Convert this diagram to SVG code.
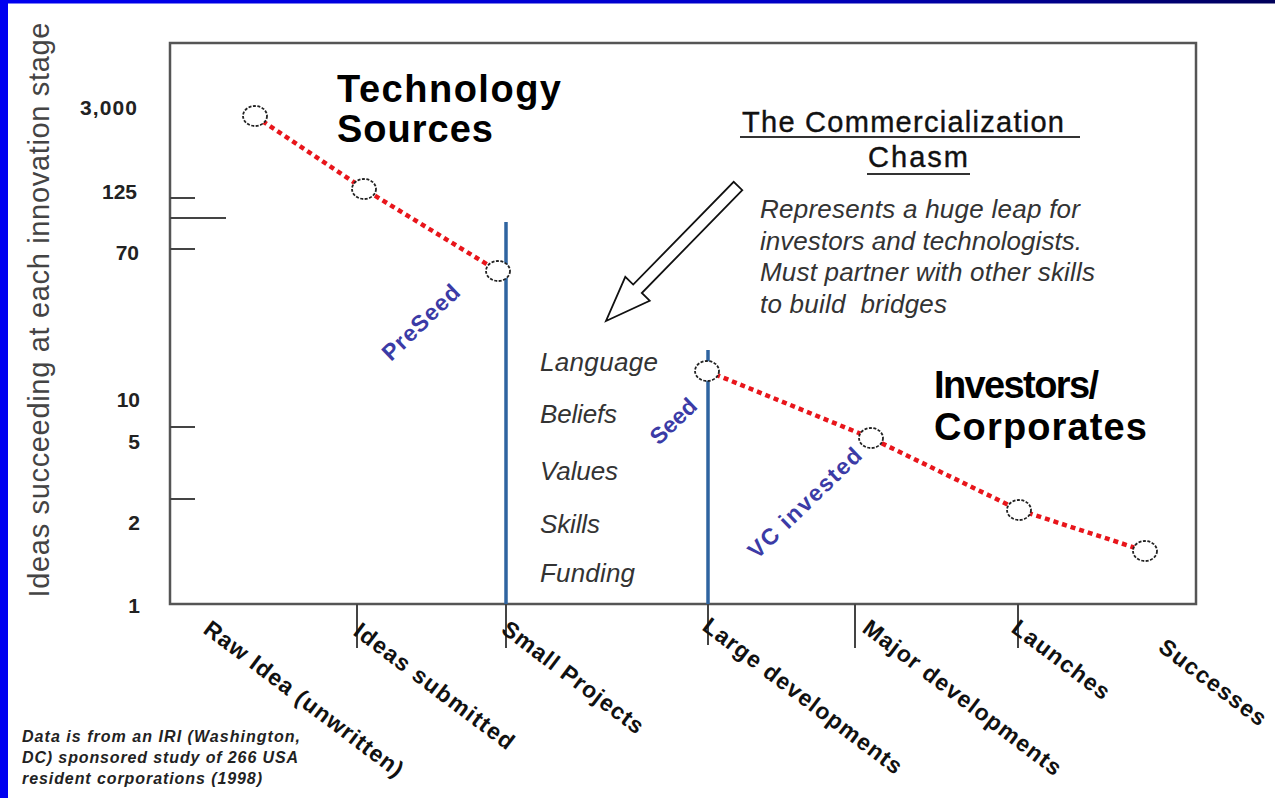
<svg xmlns="http://www.w3.org/2000/svg" width="1275" height="798" viewBox="0 0 1275 798">
<defs>
<linearGradient id="topbar" x1="0" y1="0" x2="1" y2="0">
<stop offset="0" stop-color="#0000f0"/>
<stop offset="0.6" stop-color="#0000c8"/>
<stop offset="1" stop-color="#00005a"/>
</linearGradient>
<style>
.frame{fill:none;stroke:#555;stroke-width:2.5}
.tick{stroke:#444;stroke-width:2}
.ylab{font-family:"Liberation Sans",Arial,sans-serif;font-size:21px;font-weight:bold;fill:#222;text-anchor:end}
.xlab{font-family:"Liberation Sans",Arial,sans-serif;font-size:23px;font-weight:bold;fill:#111}
.axis{font-family:"Liberation Sans",Arial,sans-serif;font-size:29px;fill:#444}
.big{font-family:"Liberation Sans",Arial,sans-serif;font-size:38px;font-weight:bold;fill:#000}
.head{font-family:"Liberation Sans",Arial,sans-serif;font-size:29px;fill:#111;stroke:#111;stroke-width:0.4}
.para{font-family:"Liberation Sans",Arial,sans-serif;font-size:26px;font-style:italic;fill:#333}
.list{font-family:"Liberation Sans",Arial,sans-serif;font-size:26px;font-style:italic;fill:#333}
.stage{font-family:"Liberation Sans",Arial,sans-serif;font-size:23px;font-weight:bold;fill:#3b3ba6}
.note{font-family:"Liberation Sans",Arial,sans-serif;font-size:16px;font-weight:bold;font-style:italic;fill:#222}
.trend{fill:none;stroke:#e8151b;stroke-width:4.5;stroke-dasharray:5 4}
.pt{fill:#fff;stroke:#222;stroke-width:1.8;stroke-dasharray:3 1.5}
.gap{stroke:#2f64a0;stroke-width:3.5}
.ul{stroke:#333;stroke-width:2}
</style>
</defs>
<rect x="0" y="0" width="1275" height="798" fill="#fff"/>
<rect x="0" y="0" width="1275" height="3.5" fill="url(#topbar)"/>
<rect x="0" y="0" width="8" height="798" fill="#0000f0"/>

<g id="axes">
<rect class="frame" x="170" y="43" width="1026" height="561"/>
<line class="tick" x1="170" y1="198" x2="195" y2="198"/>
<line class="tick" x1="170" y1="218" x2="226" y2="218"/>
<line class="tick" x1="170" y1="249" x2="195" y2="249"/>
<line class="tick" x1="170" y1="427" x2="195" y2="427"/>
<line class="tick" x1="170" y1="499" x2="195" y2="499"/>
<line class="tick" x1="357" y1="604" x2="357" y2="648"/>
<line class="tick" x1="506" y1="604" x2="506" y2="648"/>
<line class="tick" x1="708" y1="604" x2="708" y2="645"/>
<line class="tick" x1="855" y1="604" x2="855" y2="648"/>
<line class="tick" x1="1018" y1="604" x2="1018" y2="648"/>
<text class="axis" x="49" y="310" transform="rotate(-90 49 310)" text-anchor="middle" textLength="575">Ideas succeeding at each innovation stage</text>
<text class="ylab" x="137" y="115" textLength="57">3,000</text>
<text class="ylab" x="137" y="199">125</text>
<text class="ylab" x="139" y="260">70</text>
<text class="ylab" x="140" y="407">10</text>
<text class="ylab" x="140" y="449">5</text>
<text class="ylab" x="140" y="530">2</text>
<text class="ylab" x="140" y="613">1</text>
</g>

<g id="x-labels">
<text class="xlab" x="202" y="632" transform="rotate(37 202 632)" textLength="243">Raw Idea (unwritten)</text>
<text class="xlab" x="352" y="634" transform="rotate(37 352 634)" textLength="194">Ideas submitted</text>
<text class="xlab" x="500" y="632" transform="rotate(37 500 632)" textLength="171">Small Projects</text>
<text class="xlab" x="701" y="629" transform="rotate(37 701 629)" textLength="243">Large developments</text>
<text class="xlab" x="861" y="631" transform="rotate(37 861 631)" textLength="242">Major developments</text>
<text class="xlab" x="1010" y="631" transform="rotate(37 1010 631)" textLength="116">Launches</text>
<text class="xlab" x="1157" y="650" transform="rotate(37 1157 650)" textLength="128">Successes</text>
</g>

<g id="connectors">
<line class="gap" x1="506" y1="222" x2="506" y2="604"/>
<line class="gap" x1="708" y1="350" x2="708" y2="604"/>
<polyline class="trend" points="255,116 364,189 498,271"/>
<polyline class="trend" points="707,371 871,438 1019,510 1145,551"/>
</g>

<g id="point-raw"><ellipse class="pt" cx="255" cy="116" rx="12" ry="10"/></g>
<g id="point-submitted"><ellipse class="pt" cx="364" cy="189" rx="12" ry="10"/></g>
<g id="point-small"><ellipse class="pt" cx="498" cy="271" rx="12" ry="10"/></g>
<g id="point-large"><ellipse class="pt" cx="707" cy="371" rx="12" ry="10"/></g>
<g id="point-major"><ellipse class="pt" cx="871" cy="438" rx="12" ry="10"/></g>
<g id="point-launches"><ellipse class="pt" cx="1019" cy="510" rx="12" ry="10"/></g>
<g id="point-successes"><ellipse class="pt" cx="1145" cy="551" rx="12" ry="10"/></g>

<g id="technology-sources">
<text class="big" x="337" y="102" textLength="224">Technology</text>
<text class="big" x="337" y="142" textLength="156">Sources</text>
</g>

<g id="investors-corporates">
<text class="big" x="934" y="398" textLength="165">Investors/</text>
<text class="big" x="934" y="440" textLength="213">Corporates</text>
</g>

<g id="chasm">
<text class="head" x="742" y="132" textLength="322">The Commercialization</text>
<line class="ul" x1="740" y1="137" x2="1080" y2="137"/>
<text class="head" x="868" y="167" textLength="100">Chasm</text>
<line class="ul" x1="867" y1="174" x2="970" y2="174"/>
<text class="para" x="760" y="218" textLength="320">Represents a huge leap for</text>
<text class="para" x="760" y="250" textLength="322">investors and technologists.</text>
<text class="para" x="760" y="281" textLength="335">Must partner with other skills</text>
<text class="para" x="760" y="313" textLength="187">to build&#160; bridges</text>
<path d="M742.3,190.2 L641.8,293 L649.7,300.7 L606,321 L625.3,276.9 L633.2,284.6 L733.7,181.8 Z" fill="#fff" stroke="#111" stroke-width="1.8" stroke-linejoin="miter"/>
</g>

<g id="gap-factors">
<text class="list" x="540" y="371" textLength="118">Language</text>
<text class="list" x="540" y="423" textLength="77">Beliefs</text>
<text class="list" x="540" y="480" textLength="78">Values</text>
<text class="list" x="540" y="533" textLength="60">Skills</text>
<text class="list" x="540" y="582" textLength="95">Funding</text>
</g>

<g id="stages">
<text class="stage" x="391" y="362" transform="rotate(-44 391 362)" textLength="98">PreSeed</text>
<text class="stage" x="659" y="446" transform="rotate(-44 659 446)" textLength="55">Seed</text>
<text class="stage" x="757" y="560" transform="rotate(-44 757 560)" textLength="148">VC invested</text>
</g>

<g id="footnote">
<text class="note" x="22" y="742" textLength="278">Data is from an IRI (Washington,</text>
<text class="note" x="22" y="763" textLength="276">DC) sponsored study of 266 USA</text>
<text class="note" x="22" y="784" textLength="240">resident corporations (1998)</text>
</g>
</svg>
